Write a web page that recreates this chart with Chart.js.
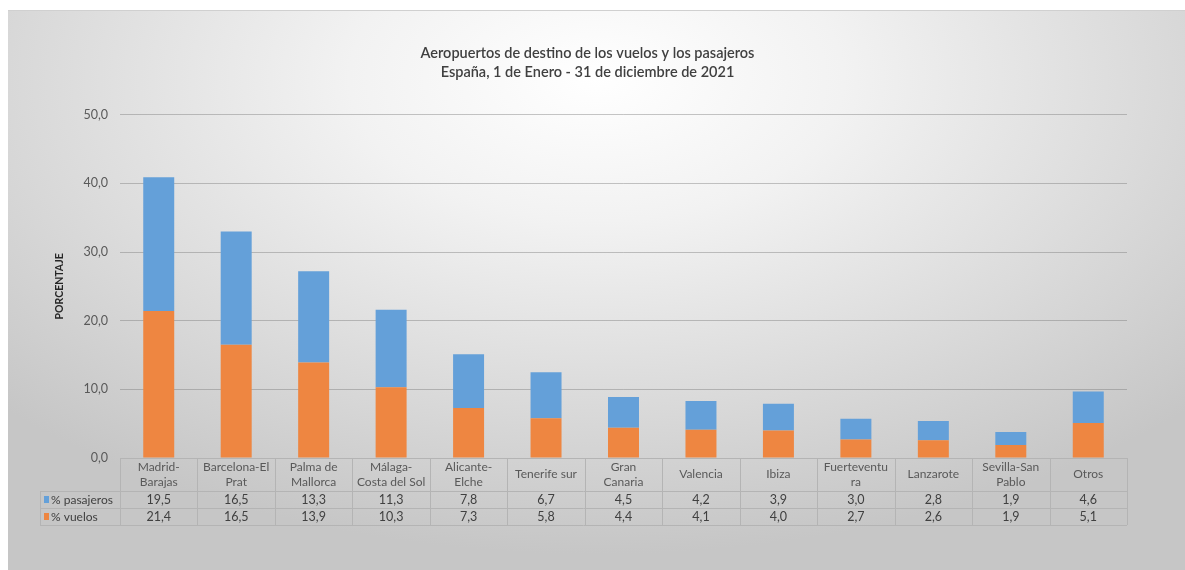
<!DOCTYPE html>
<html>
<head>
<meta charset="utf-8">
<script src="https://cdn.jsdelivr.net/npm/chart.js@4.4.1/dist/chart.umd.min.js"></script>
<style>
  html, body { margin: 0; padding: 0; background: #fff; }
  .chart-box {
    position: absolute; left: 8px; top: 10px; width: 1177px; height: 560px;
    border-top: 1px solid #d0d0d0;
    background: radial-gradient(ellipse 70% 85% at 50% 12%, #ffffff 0%, #f2f2f2 30%, #dcdcdc 65%, #c6c6c6 100%);
  }
  canvas { display: block; }
</style>
</head>
<body>
<div class="chart-box"><canvas id="chart"></canvas></div>
<script>
const categories = [
  ["Madrid-", "Barajas"], ["Barcelona-El", "Prat"], ["Palma de", "Mallorca"],
  ["Málaga-", "Costa del Sol"], ["Alicante-", "Elche"], ["Tenerife sur"],
  ["Gran", "Canaria"], ["Valencia"], ["Ibiza"], ["Fuerteventu", "ra"],
  ["Lanzarote"], ["Sevilla-San", "Pablo"], ["Otros"]
];
const pasajeros = [19.5, 16.5, 13.3, 11.3, 7.8, 6.7, 4.5, 4.2, 3.9, 3.0, 2.8, 1.9, 4.6];
const vuelos = [21.4, 16.5, 13.9, 10.3, 7.3, 5.8, 4.4, 4.1, 4.0, 2.7, 2.6, 1.9, 5.1];
const yTicks = [0, 10, 20, 30, 40, 50];

const BLUE = "#64a0d9";
const ORANGE = "#ee8641";
const FONT = "Lato, 'Open Sans', sans-serif";

const fmt = (v) => v.toFixed(1).replace(".", ",");

// data table under the plot, columns taken from the x scale
const tablePlugin = {
  id: "dataTable",
  afterDraw(chart) {
    const ctx = chart.ctx;
    const x = chart.scales.x;
    const area = chart.chartArea;
    const colW = (area.right - area.left) / categories.length;
    const top = area.bottom;
    const headH = 33, rowH = 17;
    const labelLeft = 32;
    const rows = [
      { name: "% pasajeros", color: BLUE, values: pasajeros },
      { name: "% vuelos", color: ORANGE, values: vuelos }
    ];

    ctx.save();
    ctx.strokeStyle = "#b4b4b4";
    ctx.lineWidth = 1;
    ctx.beginPath();
    ctx.moveTo(area.left, top + 0.5); ctx.lineTo(area.right, top + 0.5);
    for (let r = 0; r <= rows.length; r++) {
      const y = Math.round(top + headH + r * rowH) + 0.5;
      ctx.moveTo(labelLeft, y); ctx.lineTo(area.right, y);
    }
    const bottom = top + headH + rows.length * rowH;
    ctx.moveTo(labelLeft + 0.5, top + headH); ctx.lineTo(labelLeft + 0.5, bottom);
    for (let i = 0; i <= categories.length; i++) {
      const xx = Math.round(area.left + i * colW) + 0.5;
      ctx.moveTo(xx, top); ctx.lineTo(xx, bottom);
    }
    ctx.stroke();

    ctx.textAlign = "center";
    ctx.textBaseline = "middle";
    ctx.fillStyle = "#595959";
    ctx.font = "12px " + FONT;
    categories.forEach((lines, i) => {
      const cx = x.getPixelForValue(i);
      const cy = top + headH / 2;
      if (lines.length === 1) {
        ctx.fillText(lines[0], cx, cy);
      } else {
        ctx.fillText(lines[0], cx, cy - 7.5);
        ctx.fillText(lines[1], cx, cy + 7.5);
      }
    });

    rows.forEach((row, r) => {
      const cy = top + headH + r * rowH + rowH / 2 + 0.5;
      ctx.font = "12.5px " + FONT;
      row.values.forEach((v, i) => {
        ctx.fillStyle = "#404040";
        ctx.textAlign = "center";
        ctx.fillText(fmt(v), x.getPixelForValue(i), cy);
      });
      ctx.fillStyle = row.color;
      ctx.fillRect(labelLeft + 4, cy - 4, 5, 7);
      ctx.fillStyle = "#404040";
      ctx.textAlign = "left";
      ctx.font = "12px " + FONT;
      ctx.fillText(row.name, labelLeft + 11, cy);
    });
    ctx.restore();
  }
};

new Chart(document.getElementById("chart"), {
  type: "bar",
  data: {
    labels: categories.map((c) => c.join(" ")),
    datasets: [
      { label: "% vuelos", data: vuelos, backgroundColor: ORANGE },
      { label: "% pasajeros", data: pasajeros, backgroundColor: BLUE }
    ]
  },
  options: {
    responsive: true,
    maintainAspectRatio: false,
    animation: false,
    layout: { padding: { left: 40, right: 58, bottom: 113 } },
    datasets: { bar: { categoryPercentage: 1, barPercentage: 0.4 } },
    plugins: {
      legend: { display: false },
      tooltip: { enabled: false },
      title: {
        display: true,
        text: ["Aeropuertos de destino de los vuelos y los pasajeros", "España, 1 de Enero - 31 de diciembre de 2021"],
        color: "#404040",
        font: { family: FONT, size: 14.5, weight: "600", lineHeight: 1.3 },
        padding: { top: 33, bottom: 33 }
      }
    },
    scales: {
      x: { stacked: true, display: false },
      y: {
        stacked: true,
        min: 0,
        max: 50,
        afterBuildTicks: (scale) => { scale.ticks = yTicks.map((v) => ({ value: v })); },
        afterFit: (scale) => { scale.width = 72; },
        ticks: {
          color: "#595959",
          font: { family: FONT, size: 12.5 },
          padding: 12,
          callback: (v) => fmt(v)
        },
        grid: { color: "rgba(120,120,120,0.42)", drawTicks: false },
        border: { display: false },
        title: {
          display: true,
          text: "PORCENTAJE",
          color: "#262626",
          font: { family: FONT, size: 10.5, weight: "bold" },
          padding: { top: 5, bottom: 0 }
        }
      }
    }
  },
  plugins: [tablePlugin]
});
</script>
</body>
</html>
